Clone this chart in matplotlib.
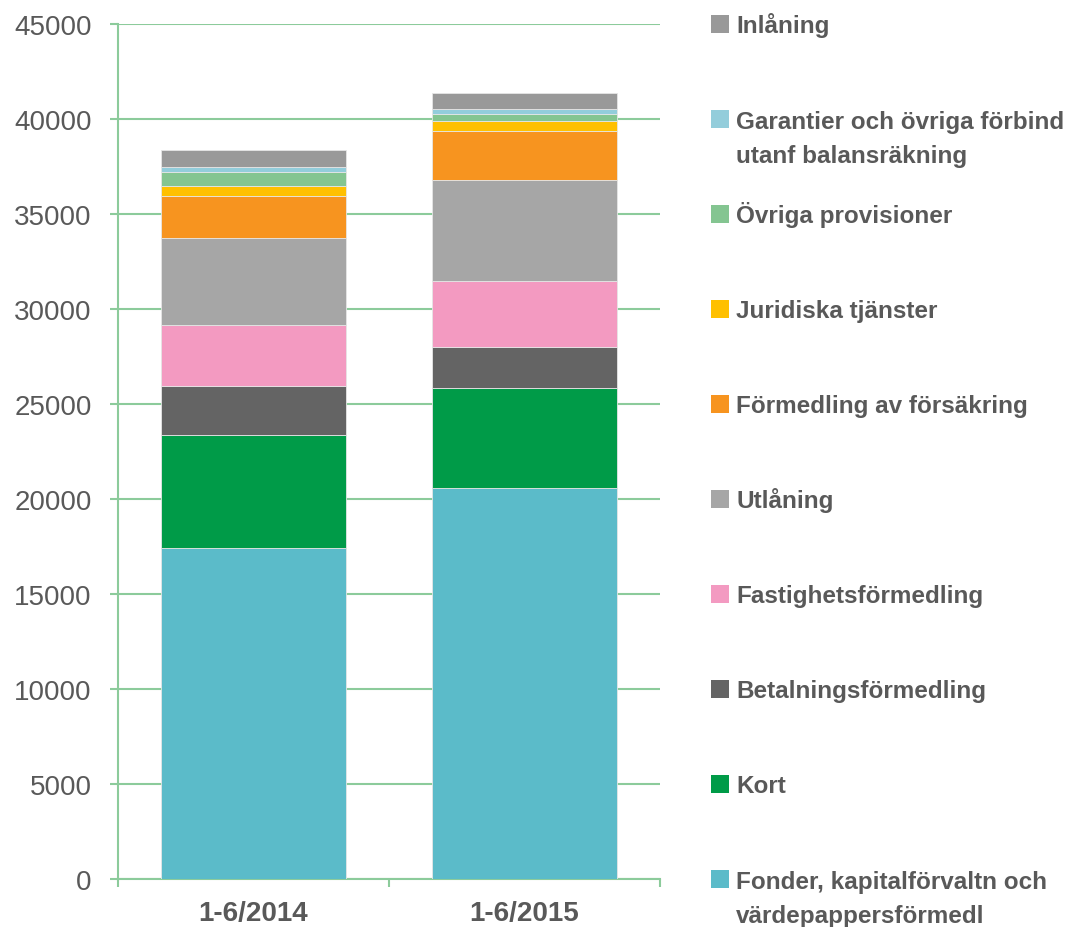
import matplotlib
matplotlib.use("Agg")
import matplotlib.pyplot as plt
import matplotlib.transforms as mtransforms

periods = ["1-6/2014", "1-6/2015"]
categories = [
    "Fonder, kapitalförvaltn och\nvärdepappersförmedl",
    "Kort",
    "Betalningsförmedling",
    "Fastighetsförmedling",
    "Utlåning",
    "Förmedling av försäkring",
    "Juridiska tjänster",
    "Övriga provisioner",
    "Garantier och övriga förbind\nutanf balansräkning",
    "Inlåning",
]
values_2014 = [17400, 5950, 2600, 3200, 4600, 2200, 500, 770, 260, 890]
values_2015 = [20580, 5260, 2160, 3470, 5300, 2610, 530, 370, 250, 820]
colors = ["#5BBBC9", "#009B48", "#646464", "#F39AC1", "#A6A6A6",
          "#F7941F", "#FFC000", "#84C591", "#93CDDB", "#999999"]

GREEN = "#8CCB9B"
TEXT = "#595959"

fig = plt.figure(figsize=(10.66, 9.28), dpi=100)
ax = fig.add_axes([118 / 1066, 48 / 928, 542 / 1066, 855 / 928])

x = range(len(periods))
bottoms = [0, 0]
for cat, v14, v15, c in zip(categories, values_2014, values_2015, colors):
    vals = [v14, v15]
    ax.bar(x, vals, bottom=bottoms, width=0.683, color=c,
           edgecolor="#E6E6E6", linewidth=0.6, zorder=3)
    bottoms = [b + v for b, v in zip(bottoms, vals)]

ax.set_ylim(0, 45000)
ax.set_xlim(-0.5, 1.5)
ax.set_yticks(range(0, 45001, 5000))
ax.yaxis.grid(True, color=GREEN, linewidth=1.5, zorder=0)
ax.set_xticks([0, 1])
ax.set_xticklabels(periods, fontsize=20, fontweight="bold", color=TEXT,
                   family="Liberation Sans")
ax.set_xticks([-0.5, 0.5, 1.5], minor=True)
ax.tick_params(axis="x", which="major", length=0, pad=15)
ax.tick_params(axis="x", which="minor", length=6, color=GREEN, width=1.5,
               direction="out")
ax.tick_params(axis="y", length=6, color=GREEN, width=1.5, pad=13,
               labelsize=20, labelcolor=TEXT)
for lab in ax.get_yticklabels():
    lab.set_family("Liberation Sans")
for s in ["top", "right"]:
    ax.spines[s].set_visible(False)
for s in ["left", "bottom"]:
    ax.spines[s].set_color(GREEN)
    ax.spines[s].set_linewidth(1.5)

# legend on the right, one entry per gridline, first text line beside the square
trans = mtransforms.blended_transform_factory(fig.transFigure, ax.transData)
n = len(categories)
line_px = 35
for i, (cat, c) in enumerate(zip(reversed(categories), reversed(colors))):
    yv = 45000 - i * 45000 / (n - 1)
    ax.scatter([720 / 1066], [yv], marker="s", s=150, color=c,
               transform=trans, clip_on=False, linewidths=0)
    extra = cat.count("\n") * line_px
    shift = mtransforms.ScaledTranslation(0, -(8.5 + extra) / 100,
                                          fig.dpi_scale_trans)
    ax.text(736 / 1066, yv, cat, transform=trans + shift, ha="left",
            va="baseline", fontsize=17.5, fontweight="bold",
            color=TEXT, family="Liberation Sans", linespacing=1.64)

fig.savefig("out.png", dpi=100)
